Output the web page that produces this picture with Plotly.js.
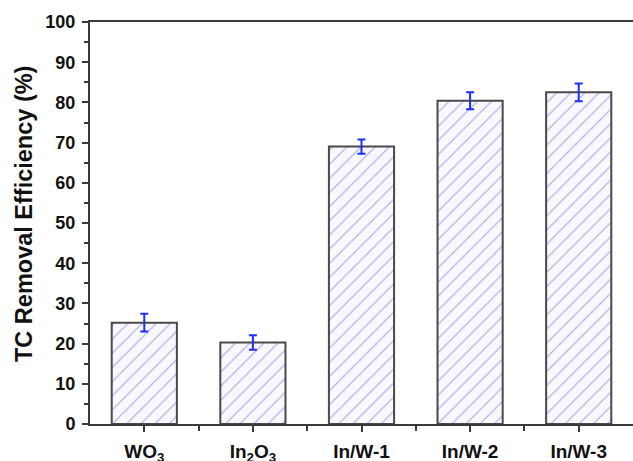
<!DOCTYPE html>
<html>
<head>
<meta charset="utf-8">
<script src="https://cdn.plot.ly/plotly-3.0.1.min.js"></script>
<style>
  html, body { margin: 0; padding: 0; background: #ffffff; }
  #chart { width: 633px; height: 461px; }
</style>
</head>
<body>
<div id="chart"></div>
<script>
// Samples and their TC removal efficiency (%)
const samples = ['WO<sub>3</sub>', 'In<sub>2</sub>O<sub>3</sub>', 'In/W-1', 'In/W-2', 'In/W-3'];
const efficiency = [25.2, 20.3, 69.0, 80.4, 82.5];
const errors = [2.2, 1.8, 1.8, 2.1, 2.2];
const yTitle = 'TC Removal Efficiency (%)';

const font = 'Arial, "Liberation Sans", sans-serif';

const bars = {
  type: 'bar',
  x: [0, 1, 2, 3, 4],
  y: efficiency,
  width: 0.6,
  marker: {
    color: '#f8f8fe',
    line: { color: '#4a4a4a', width: 2 },
    pattern: { shape: '/', fgcolor: '#a4a4ee', bgcolor: '#f8f8fe', size: 10, solidity: 0.1 }
  },
  error_y: { type: 'data', array: errors, visible: true, color: '#1f2cff', thickness: 2, width: 4 },
  hoverinfo: 'skip'
};

const layout = {
  width: 633,
  height: 461,
  margin: { l: 90, r: 0, t: 22, b: 37 },
  paper_bgcolor: '#ffffff',
  plot_bgcolor: '#ffffff',
  showlegend: false,
  font: { family: font, color: '#111111' },
  xaxis: {
    range: [-0.5, 4.5],
    tickmode: 'array',
    tickvals: [0, 1, 2, 3, 4],
    ticktext: samples,
    ticks: 'outside',
    ticklen: 6,
    tickwidth: 2,
    tickcolor: '#3a3a3a',
    ticklabelstandoff: 3,
    minor: { tickmode: 'array', tickvals: [0.5, 1.5, 2.5, 3.5], ticks: 'outside', ticklen: 5, tickwidth: 2, tickcolor: '#3a3a3a' },
    showline: true,
    linecolor: '#3a3a3a',
    linewidth: 2,
    mirror: true,
    showgrid: false,
    zeroline: false,
    tickfont: { family: font, size: 19, color: '#111111', weight: 'bold' }
  },
  yaxis: {
    range: [0, 100],
    tickmode: 'linear',
    tick0: 0,
    dtick: 10,
    ticks: 'outside',
    ticklen: 6,
    tickwidth: 2,
    tickcolor: '#3a3a3a',
    ticklabelstandoff: 3,
    minor: { dtick: 5, ticks: 'outside', ticklen: 4, tickwidth: 2, tickcolor: '#3a3a3a' },
    showline: true,
    linecolor: '#3a3a3a',
    linewidth: 2,
    showgrid: false,
    zeroline: false,
    tickfont: { family: font, size: 18, color: '#111111', weight: 'bold' }
  },
  annotations: [{
    text: yTitle,
    xref: 'paper', yref: 'paper',
    x: -0.1225, y: 0.5236,
    xanchor: 'center', yanchor: 'middle',
    textangle: -90,
    showarrow: false,
    font: { family: font, size: 23.5, color: '#111111', weight: 'bold' }
  }]
};

Plotly.newPlot('chart', [bars], layout, { displayModeBar: false, staticPlot: true });
</script>
</body>
</html>
